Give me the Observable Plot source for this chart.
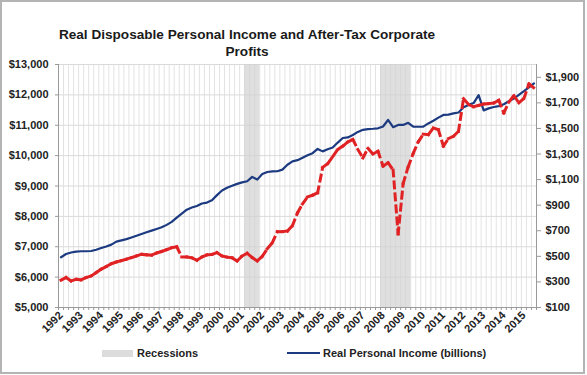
<!DOCTYPE html>
<html>
<head>
<meta charset="utf-8">
<script src="https://cdn.jsdelivr.net/npm/d3@7"></script>
<script src="https://cdn.jsdelivr.net/npm/@observablehq/plot@0.6"></script>
<style>
  html, body { margin: 0; padding: 0; background: #fff; }
  #wrap { position: relative; width: 587px; height: 375px; overflow: hidden; font-family: "Liberation Sans", Arial, sans-serif; }
  #frame { position: absolute; left: 0; top: 0; width: 585px; height: 374px; box-sizing: border-box; border: 2px solid #b4b4b4; }
  #title { position: absolute; left: 0; top: 26px; width: 494px; text-align: center; font-weight: bold; font-size: 13.6px; line-height: 17px; color: #1a1a1a; }
  #plot { position: absolute; left: 0; top: 50px; }
  .lg { position: absolute; font-weight: bold; font-size: 11px; line-height: 13px; color: #222; white-space: nowrap; }
</style>
</head>
<body>
<div id="wrap">
  <div id="frame"></div>
  <div id="title">Real Disposable Personal Income and After-Tax Corporate<br>Profits</div>
  <div id="plot"></div>
  <div style="position:absolute;left:102px;top:350px;width:31px;height:7px;background:#dcdcdc;"></div>
  <div class="lg" style="left:137px;top:347px;">Recessions</div>
  <div style="position:absolute;left:287px;top:352px;width:33px;height:2px;background:#1b3a80;"></div>
  <div class="lg" style="left:323px;top:347px;">Real Personal Income (billions)</div>
</div>
<script>
// ---- Data (quarterly, 1992Q1 .. 2015Q3) ----
const years = [1992, 1993, 1994, 1995, 1996, 1997, 1998, 1999, 2000, 2001, 2002, 2003,
               2004, 2005, 2006, 2007, 2008, 2009, 2010, 2011, 2012, 2013, 2014, 2015];

// Real disposable personal income (billions, left axis)
const income = [
  6655, 6760, 6810, 6840,
  6852, 6852, 6860, 6900,
  6960, 7010, 7070, 7170,
  7210, 7250, 7305, 7360,
  7420, 7475, 7530, 7585,
  7640, 7720, 7820, 7960,
  8090, 8220, 8290, 8340,
  8425, 8455, 8530, 8700,
  8850, 8940, 9010, 9070,
  9120, 9155, 9300, 9210,
  9398, 9460, 9480, 9485,
  9540, 9700, 9810, 9850,
  9930, 10010, 10080, 10220,
  10140, 10210, 10270, 10430,
  10580, 10600, 10680, 10780,
  10850, 10875, 10885, 10900,
  10960, 11174, 10935, 11010,
  11010, 11080, 10955, 10950,
  10955, 11060, 11150, 11250,
  11340, 11350, 11390, 11420,
  11590, 11670, 11730, 11990,
  11490, 11556, 11600, 11630,
  11690, 11790, 11880, 12000,
  12120, 12250, 12378
];

// After-tax corporate profits (billions, right axis)
const profits = [
  314, 334, 308, 320,
  316, 334, 347, 373,
  400, 420, 442, 456,
  466, 478, 490, 503,
  516, 512, 510, 526,
  538, 552, 568, 575,
  495, 495, 488, 470,
  495, 511, 515, 529,
  503, 494, 488, 464,
  503, 524, 490, 464,
  500, 560, 607, 693,
  693, 698, 740, 840,
  910, 965, 978, 997,
  1195, 1225, 1280, 1335,
  1362, 1395, 1414, 1335,
  1270, 1345, 1300, 1322,
  1205, 1232, 1175, 675,
  1070, 1200, 1305, 1395,
  1455, 1452, 1504, 1490,
  1361, 1421, 1439, 1478,
  1733, 1687, 1670, 1680,
  1691, 1694, 1699, 1720,
  1621, 1705, 1757, 1700,
  1735, 1848, 1816
];

const recessionStart = ["2001Q2", "2008Q1"];
const recessionEnd   = ["2001Q4", "2009Q2"];

const leftTicks  = [5000, 6000, 7000, 8000, 9000, 10000, 11000, 12000, 13000];
const rightTicks = [100, 300, 500, 700, 900, 1100, 1300, 1500, 1700, 1900];
const leftDomain = [5000, 13000];
const rightDomain = [100, 2000];

// ---- Derived tables ----
const quarters = years.flatMap(y => [1, 2, 3, 4].map(q => `${y}Q${q}`)).slice(0, income.length);
const idx = q => quarters.indexOf(q);

// map right-axis values onto the left-axis scale
const toLeft = v => leftDomain[0] + (v - rightDomain[0]) * (leftDomain[1] - leftDomain[0]) / (rightDomain[1] - rightDomain[0]);
const toRight = v => rightDomain[0] + (v - leftDomain[0]) * (rightDomain[1] - rightDomain[0]) / (leftDomain[1] - leftDomain[0]);

const incomeData = income.map((v, i) => ({i, v}));
const profitSegs = profits.slice(1).map((v, k) => ({x1: k, y1: toLeft(profits[k]), x2: k + 1, y2: toLeft(v)}));
const recessions = recessionStart.map((s, k) => ({x1: idx(s) - 0.5, x2: idx(recessionEnd[k]) + 0.5}));
const boundaries = d3.range(-0.5, quarters.length, 1);
const yearPos = years.map(y => idx(`${y}Q1`));
const fmt = d3.format(",");

const chart = Plot.plot({
  width: 587,
  height: 295,
  marginTop: 14,
  marginBottom: 38,
  marginLeft: 58,
  marginRight: 51,
  style: {fontFamily: "'Liberation Sans', Arial, sans-serif", background: "transparent"},
  x: {domain: [-0.5, quarters.length - 0.5]},
  y: {domain: leftDomain},
  marks: [
    Plot.gridX(boundaries, {stroke: "#e3e3e3", strokeOpacity: 1}),
    Plot.gridY(leftTicks, {stroke: "#dadada", strokeOpacity: 1}),
    Plot.rect(recessions, {x1: "x1", x2: "x2", fill: "#d2d2d2", fillOpacity: 0.7}),
    Plot.ruleX([-0.5, quarters.length - 0.5], {stroke: "#9a9a9a"}),
    Plot.ruleY([leftDomain[0]], {stroke: "#9a9a9a"}),
    Plot.axisY(leftTicks, {anchor: "left", tickSize: 3, tickPadding: 7, stroke: "#9a9a9a", fill: "#222",
      fontSize: 11, fontWeight: "bold", tickFormat: d => "$" + fmt(d)}),
    Plot.axisY(rightTicks.map(toLeft), {anchor: "right", tickSize: 4, tickPadding: 5, stroke: "#9a9a9a", fill: "#222",
      fontSize: 11, fontWeight: "bold", tickFormat: d => "$" + fmt(Math.round(toRight(d)))}),
    Plot.axisX(boundaries, {anchor: "bottom", tickSize: 3, stroke: "#9a9a9a", fill: "none"}),
    Plot.axisX(yearPos, {anchor: "bottom", tickSize: 0, tickPadding: 6, tickRotate: -45, fill: "#222",
      fontSize: 11, fontWeight: "bold", tickFormat: d => quarters[d].slice(0, 4)}),
    Plot.line(incomeData, {x: "i", y: "v", stroke: "#1b3a80", strokeWidth: 2.2}),
    Plot.link(profitSegs, {x1: "x1", y1: "y1", x2: "x2", y2: "y2", stroke: "#e02224", strokeWidth: 3,
      strokeDasharray: "6,6", strokeLinecap: "square"})
  ]
});
document.getElementById("plot").appendChild(chart);
</script>
</body>
</html>
